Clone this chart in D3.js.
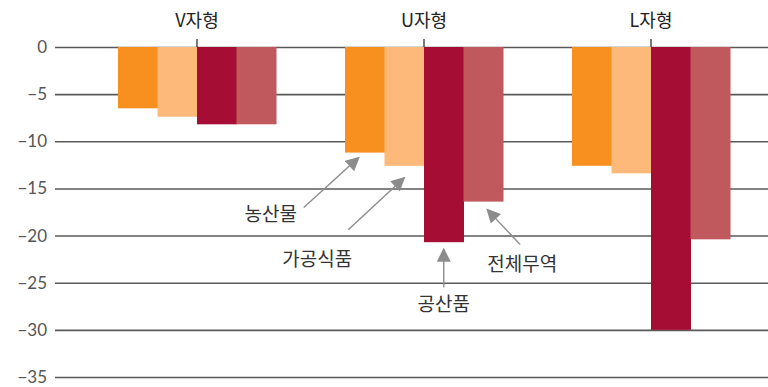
<!DOCTYPE html>
<html>
<head>
<meta charset="utf-8">
<script src="https://cdn.jsdelivr.net/npm/d3@7"></script>
<style>
  html, body { margin: 0; padding: 0; background: #fff; }
  svg { display: block; font-family: "Noto Sans CJK KR", "Noto Sans", sans-serif; }
</style>
</head>
<body>
<svg id="chart" width="768" height="387"></svg>
<script>
// Recovery patterns and the trade categories
const groups = ["V자형", "U자형", "L자형"];
const series = ["농산물", "가공식품", "공산품", "전체무역"];
const colors = ["#f7901e", "#fdb97a", "#a50d35", "#c0595e"];

// Change rates per series, one value per pattern
const agri      = [-6.5, -11.2, -12.6];
const processed = [-7.4, -12.6, -13.4];
const industry  = [-8.2, -20.7, -30.0];
const total     = [-8.2, -16.4, -20.4];
const values = [agri, processed, industry, total];

const yTicks = [0, -5, -10, -15, -20, -25, -30, -35];

const svg = d3.select("#chart");

const x = d3.scaleBand().domain(groups).range([83.5, 764.5]).padding(0);
const xs = d3.scaleBand().domain(series).range([-79, 79]).padding(0);
const y = d3.scaleLinear().domain([0, -35]).range([47, 377]);

// horizontal gridlines with tick labels
const yAxis = d3.axisLeft(y).tickValues(yTicks).tickSize(-713).tickPadding(8)
  .tickFormat(d => d === 0 ? "0" : "−" + Math.abs(d));
const ga = svg.append("g").attr("transform", "translate(55,0)").call(yAxis);
ga.select(".domain").remove();
ga.selectAll(".tick line").attr("stroke", "#5a5a5a").attr("stroke-width", 1.6);
ga.selectAll(".tick text").attr("fill", "#555").attr("font-size", 17)
  .attr("font-family", "Lato, 'Noto Sans', sans-serif");

// bars
const rows = [];
groups.forEach((g, gi) => series.forEach((s, si) => rows.push({ g, s, si, v: values[si][gi] })));
svg.append("g").selectAll("rect").data(rows).join("rect")
  .attr("x", d => x(d.g) + x.bandwidth() / 2 + xs(d.s))
  .attr("width", xs.bandwidth() + 0.5)
  .attr("y", y(0))
  .attr("height", d => y(d.v) - y(0))
  .attr("fill", d => colors[d.si]);

// group labels with a small tick above the zero line
const gx = svg.append("g");
groups.forEach(g => {
  const cx = x(g) + x.bandwidth() / 2;
  gx.append("line").attr("x1", cx).attr("x2", cx).attr("y1", 39).attr("y2", y(0))
    .attr("stroke", "#333").attr("stroke-width", 1.3);
  gx.append("text").attr("x", cx).attr("y", 27).attr("text-anchor", "middle")
    .attr("font-size", 18).attr("fill", "#222").text(g);
});

// annotation arrows for the U pattern
const defs = svg.append("defs");
defs.append("marker").attr("id", "ah").attr("viewBox", "0 0 10 10")
  .attr("refX", 9).attr("refY", 5).attr("markerWidth", 15).attr("markerHeight", 14)
  .attr("markerUnits", "userSpaceOnUse").attr("orient", "auto")
  .append("path").attr("d", "M0,0L10,5L0,10Z").attr("fill", "#8c8c8c");

const ug = "U자형";
const barCx = s => x(ug) + x.bandwidth() / 2 + xs(s) + xs.bandwidth() / 2;
const notes = [
  { si: 0, tip: [-6, 5],  tail: [-61, 55], label: [-94, 212] },
  { si: 1, tip: [0, 12],  tail: [-56, 64], label: [-87, 257] },
  { si: 2, tip: [0, 7],   tail: [0, 45],   label: [0, 302] },
  { si: 3, tip: [4, 8],   tail: [37, 43],  label: [39, 262] }
];
const an = svg.append("g");
notes.forEach(n => {
  const s = series[n.si];
  const bx = barCx(s), by = y(values[n.si][1]);
  an.append("line")
    .attr("x1", bx + n.tail[0]).attr("y1", by + n.tail[1])
    .attr("x2", bx + n.tip[0]).attr("y2", by + n.tip[1])
    .attr("stroke", "#8c8c8c").attr("stroke-width", 1.4)
    .attr("marker-end", "url(#ah)");
  an.append("text").attr("x", bx + n.label[0]).attr("y", n.label[1])
    .attr("text-anchor", "middle").attr("dominant-baseline", "central")
    .attr("font-size", 19).attr("fill", "#333").text(s);
});
</script>
</body>
</html>
